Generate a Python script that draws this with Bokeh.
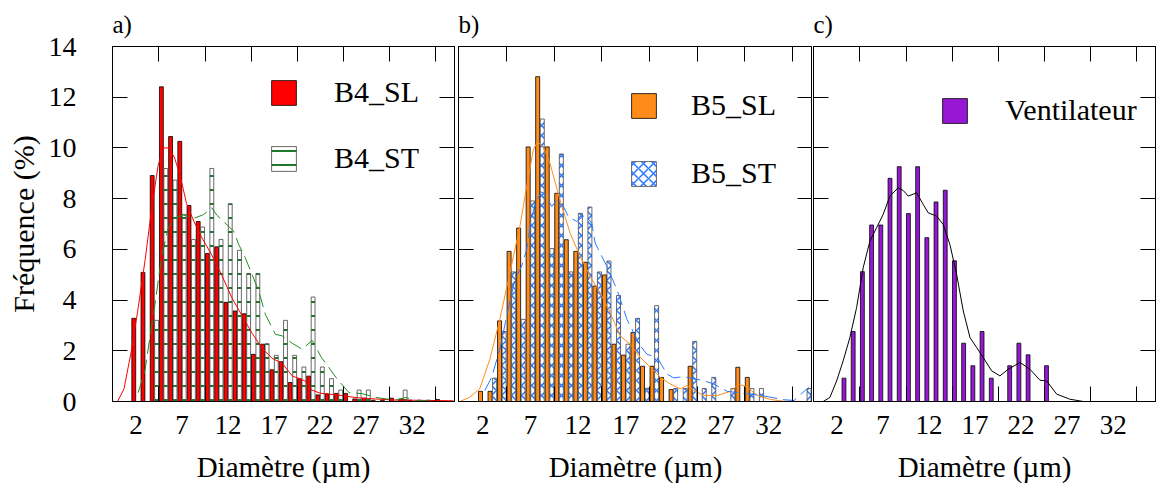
from bokeh.plotting import figure
from bokeh.layouts import row
from bokeh.models import Range1d, LinearAxis, FixedTicker, Legend, LegendItem, ColumnDataSource
from bokeh.embed import file_html
from bokeh.resources import INLINE

FONT = "Liberation Serif"

# ---------------- data ----------------
x_tick_labels = [2, 7, 12, 17, 22, 27, 32]
x_inner_ticks = [4.5, 9.5, 14.5, 19.5, 24.5, 29.5, 34.5]
y_ticks = [0, 2, 4, 6, 8, 10, 12, 14]

diam_a = list(range(2, 36))
b4_sl = [3.28, 5.09, 8.91, 12.41, 10.45, 10.26, 7.73, 7.1, 5.84, 6.1, 3.91, 3.57, 3.46, 1.86, 2.26,
         1.25, 1.57, 0.75, 0.9, 1.0, 0.26, 0.3, 0.32, 0.32, 0.1, 0.13, 0.05, 0.05, 0.13, 0.1,
         0.05, 0.05, 0.05, 0.08]
b4_st = [0, 0, 3.2, 9.19, 8.73, 7.38, 6.39, 6.88, 9.19, 6.39, 7.8, 5.96, 5.05, 5.05, 2.28,
         1.82, 3.2, 1.82, 1.36, 4.12, 1.36, 0.9, 0.45, 0, 0.45, 0.45, 0, 0, 0, 0.45,
         0, 0, 0, 0]

diam_b = list(range(2, 37))
b5_sl = [0.4, 0.4, 3.18, 5.92, 6.84, 10.04, 12.81, 10.04, 8.21, 6.38, 5.92, 5.49, 4.55, 4.99,
         2.26, 1.83, 2.72, 1.39, 1.39, 0.95, 0.47, 0, 1.39, 0, 0, 0, 0, 1.35, 0.95, 0,
         0, 0, 0, 0, 0]
b5_st = [0, 0.92, 2.76, 5.11, 3.24, 7.91, 11.14, 6.03, 9.76, 5.11, 7.42, 7.67, 5.11, 5.54,
         4.18, 2.26, 3.28, 0.52, 3.78, 0, 0.51, 0.51, 2.37, 0.51, 0.95, 0, 0.51, 0, 0.51,
         0.51, 0, 0, 0, 0, 0.51]

diam_c = list(range(3, 26))
vent = [0.92, 2.76, 5.12, 6.96, 6.96, 8.8, 9.26, 7.41, 9.26, 6.46, 7.87, 8.33, 5.55, 2.3,
        1.41, 2.76, 0.92, 0, 1.41, 2.3, 1.84, 0, 1.41]

# smoothed density curves
b4_sl_curve_x = [0.0, 0.7, 1.5, 2.2, 3.0, 3.7, 4.4, 5.0, 5.6, 6.2, 6.8, 7.5, 8.3, 9.1, 10.2, 11.3,
                 12.4, 13.5, 14.6, 15.7, 16.8, 17.9, 19.0, 19.8, 20.4, 21.1, 22.0, 24.0, 26.0,
                 28.0, 30.0, 32.0, 34.0, 36.5]
b4_sl_curve_y = [0, 0.5, 2.0, 3.6, 5.6, 7.6, 9.3, 10.0, 10.0, 9.6, 8.9, 7.8, 7.1, 6.5, 5.8, 5.0,
                 4.1, 3.4, 2.7, 2.1, 1.7, 1.5, 1.0, 0.9, 0.8, 0.45, 0.33, 0.25, 0.15, 0.1, 0.06,
                 0.05, 0.04, 0.03]
b4_st_curve_x = [2.24, 2.96, 4.05, 4.78, 5.51, 6.23, 7.15, 8.41, 9.33, 10.23, 10.78, 12.6, 13.15,
                 13.87, 15.33, 16.05, 17.14, 17.87, 18.96, 20.05, 21.14, 22.15, 22.96, 23.86,
                 25.14, 26.59, 28.04, 30.22, 31.31, 32.37, 34.55]
b4_st_curve_y = [0.35, 1.2, 3.8, 5.7, 6.85, 7.24, 7.35, 7.24, 7.37, 7.64, 7.35, 6.72, 6.2, 5.67,
                 4.36, 3.44, 2.65, 2.59, 2.3, 2.06, 2.41, 1.73, 1.34, 0.88, 0.35, 0.31, 0.16,
                 0.05, 0.16, 0.03, 0.03]
b5_sl_curve_x = [-0.42, 0.63, 1.68, 2.74, 3.79, 4.84, 5.89, 6.6, 7.29, 7.72, 8.35, 9.05, 10.1,
                 11.16, 12.21, 13.26, 14.32, 15.37, 16.42, 17.47, 18.53, 19.58, 20.63, 21.68,
                 22.74, 23.44, 24.14, 25.19, 26.6, 28.0, 28.87, 29.76, 30.81, 32.2, 33.58, 36.6]
b5_sl_curve_y = [0, 0.17, 0.5, 1.67, 3.24, 5.07, 6.9, 8.47, 9.9, 10.26, 10.04, 9.39, 7.95, 6.64,
                 5.73, 4.94, 4.29, 3.5, 2.59, 2.26, 1.74, 1.35, 0.95, 0.69, 0.5, 0.63, 0.43,
                 0.24, 0.24, 0.4, 0.69, 0.56, 0.24, 0.08, 0.01, 0]
b5_st_curve_x = [2.21, 2.92, 3.79, 4.66, 5.37, 6.07, 6.6, 7.13, 7.65, 8.18, 8.71, 9.23, 9.76,
                 10.45, 10.98, 11.86, 12.74, 13.44, 13.79, 15.02, 16.07, 17.13, 17.47, 18.53,
                 19.23, 20.28, 21.34, 22.03, 23.08, 25.19, 26.24, 27.65, 29.05, 31.16, 33.61,
                 34.66, 35.72, 36.25]
b5_st_curve_y = [0.43, 0.95, 2.07, 3.63, 4.81, 5.33, 5.99, 7.29, 7.95, 8.27, 8.08, 7.69, 7.95,
                 7.69, 7.29, 7.1, 7.36, 7.03, 6.25, 5.33, 4.42, 3.24, 2.98, 2.2, 1.86, 1.74,
                 1.08, 0.93, 0.98, 0.82, 0.69, 0.4, 0.34, 0.24, 0.07, 0.04, 0.4, 0.56]
vent_curve_x = [0.5, 1.23, 1.96, 2.67, 3.4, 4.13, 4.85, 5.58, 6.3, 7.02, 7.75, 8.65, 9.2, 9.74,
                10.65, 11.37, 11.91, 12.83, 13.54, 14.27, 15.0, 15.72, 16.45, 17.17, 17.89,
                18.8, 19.7, 20.6, 21.88, 22.97, 24.05, 24.78, 25.87, 27.3, 28.76, 36.6]
vent_curve_y = [0, 0.16, 0.81, 1.6, 2.52, 3.7, 5.28, 6.33, 6.85, 7.38, 8.1, 8.43, 8.32, 8.1,
                8.23, 7.77, 7.44, 7.31, 6.98, 6.19, 5.01, 3.57, 2.52, 2.13, 1.73, 1.21, 1.01,
                1.27, 1.54, 1.27, 0.84, 0.81, 0.29, 0.09, 0, 0]

RED = "#ff0000"
GREEN = "#1e7a2a"
ORANGE = "#ff8c1a"
BLUE = "#2a78ff"
PURPLE = "#9618d5"

BAR_W = 0.42
SHIFT = 0.24
X0, X1 = -0.55, 36.6


def make_panel(title, width, bl, br, ylabels):
    p = figure(width=width, height=492, x_range=Range1d(X0, X1), y_range=Range1d(0, 14),
               output_backend="svg", toolbar_location=None, x_axis_type=None, y_axis_type=None,
               min_border_left=bl, min_border_right=br, min_border_top=46, min_border_bottom=91,
               title=title)
    p.title.text_font = FONT
    p.title.text_font_size = "25px"
    p.title.text_font_style = "normal"
    p.title.text_color = "black"
    p.title.align = "left"
    p.title.standoff = 17
    p.outline_line_color = "black"
    p.outline_line_width = 1
    p.background_fill_color = "white"
    p.border_fill_color = "white"

    bottom = LinearAxis(ticker=FixedTicker(ticks=x_tick_labels, minor_ticks=x_inner_ticks))
    bottom.major_tick_in = 0
    bottom.major_tick_out = 0
    bottom.minor_tick_in = 15
    bottom.minor_tick_out = 0
    bottom.minor_tick_line_color = "black"
    bottom.axis_line_color = "black"
    bottom.major_label_text_font = FONT
    bottom.major_label_text_font_size = "27px"
    bottom.major_label_text_color = "black"
    bottom.major_label_standoff = 14
    bottom.axis_label = "Diamètre (µm)"
    bottom.axis_label_text_font = FONT
    bottom.axis_label_text_font_size = "29px"
    bottom.axis_label_text_font_style = "normal"
    bottom.axis_label_text_color = "black"
    bottom.axis_label_standoff = 14
    p.add_layout(bottom, "below")

    top = LinearAxis(ticker=FixedTicker(ticks=[], minor_ticks=x_inner_ticks))
    top.minor_tick_in = 15
    top.minor_tick_out = 0
    top.minor_tick_line_color = "black"
    top.major_tick_out = 0
    top.major_label_standoff = 0
    top.axis_line_color = "black"
    p.add_layout(top, "above")

    if ylabels:
        left = LinearAxis(ticker=FixedTicker(ticks=y_ticks, minor_ticks=[]))
        left.major_tick_in = 15
        left.major_tick_out = 0
        left.major_tick_line_color = "black"
        left.major_label_text_font = FONT
        left.major_label_text_font_size = "28px"
        left.major_label_text_color = "black"
        left.major_label_standoff = 36
        left.axis_label = "Fréquence (%)"
        left.axis_label_text_font = FONT
        left.axis_label_text_font_size = "30px"
        left.axis_label_text_font_style = "normal"
        left.axis_label_text_color = "black"
        left.axis_label_standoff = 6
    else:
        left = LinearAxis(ticker=FixedTicker(ticks=[], minor_ticks=y_ticks))
        left.minor_tick_in = 15
        left.minor_tick_out = 0
        left.minor_tick_line_color = "black"
        left.major_tick_out = 0
        left.major_label_standoff = 0
    left.axis_line_color = "black"
    p.add_layout(left, "left")

    right = LinearAxis(ticker=FixedTicker(ticks=[], minor_ticks=y_ticks))
    right.minor_tick_in = 15
    right.minor_tick_out = 0
    right.minor_tick_line_color = "black"
    right.major_tick_out = 0
    right.major_label_standoff = 0
    right.axis_line_color = "black"
    p.add_layout(right, "right")
    return p


def legend(items, loc, spacing, standoff):
    lg = Legend(items=items, location=loc, glyph_width=31, glyph_height=31,
                label_text_font=FONT, label_text_font_size="30px", label_text_color="black",
                label_standoff=standoff, spacing=spacing, padding=0, margin=0,
                border_line_color=None, background_fill_alpha=0, label_height=27)
    return lg


# ---------- panel a ----------
pa = make_panel("a)", 456, 112, 2, True)
src_a = ColumnDataSource(dict(x_sl=[d - SHIFT for d in diam_a], x_st=[d + SHIFT for d in diam_a],
                              sl=b4_sl, st=b4_st))
ra1 = pa.vbar(x="x_sl", top="sl", width=BAR_W, source=src_a, fill_color=RED,
              line_color="black", line_width=0.8)
ra2 = pa.vbar(x="x_st", top="st", width=BAR_W, source=src_a, fill_color="white",
              line_color="#444444", line_width=0.8, hatch_pattern="horizontal_line",
              hatch_color=GREEN, hatch_scale=14, hatch_weight=2)
pa.line(b4_sl_curve_x, b4_sl_curve_y, line_color=RED, line_width=1)
pa.line(b4_st_curve_x, b4_st_curve_y, line_color="#228b22", line_width=1, line_dash="14 6")
pa.add_layout(legend([LegendItem(label="B4_SL", renderers=[ra1]),
                      LegendItem(label="B4_ST", renderers=[ra2])], (156, 226), 32, 35))

# ---------- panel b ----------
pb = make_panel("b)", 356, 2, 0, False)
src_b = ColumnDataSource(dict(x_sl=[d - SHIFT for d in diam_b], x_st=[d + SHIFT for d in diam_b],
                              sl=b5_sl, st=b5_st))
rb1 = pb.vbar(x="x_sl", top="sl", width=BAR_W, source=src_b, fill_color=ORANGE,
              line_color="black", line_width=0.8)
rb2 = pb.vbar(x="x_st", top="st", width=BAR_W, source=src_b, fill_color="white",
              line_color="#444444", line_width=0.8, hatch_pattern="diagonal_cross",
              hatch_color=BLUE, hatch_scale=10, hatch_weight=1.5)
pb.line(b5_sl_curve_x, b5_sl_curve_y, line_color=ORANGE, line_width=1)
pb.line(b5_st_curve_x, b5_st_curve_y, line_color=BLUE, line_width=1, line_dash="14 6")
pb.add_layout(legend([LegendItem(label="B5_SL", renderers=[rb1]),
                      LegendItem(label="B5_ST", renderers=[rb2])], (170, 211), 34, 32))

# ---------- panel c ----------
pc = make_panel("c)", 347, 1, 4, False)
src_c = ColumnDataSource(dict(x=[d - SHIFT for d in diam_c], v=vent))
rc1 = pc.vbar(x="x", top="v", width=BAR_W, source=src_c, fill_color=PURPLE,
              line_color="black", line_width=0.8)
pc.line(vent_curve_x, vent_curve_y, line_color="black", line_width=1)
pc.add_layout(legend([LegendItem(label="Ventilateur", renderers=[rc1])], (126, 274), 0, 35))

layout = row(pa, pb, pc, spacing=0)
open("out.html", "w").write(file_html(layout, INLINE))
